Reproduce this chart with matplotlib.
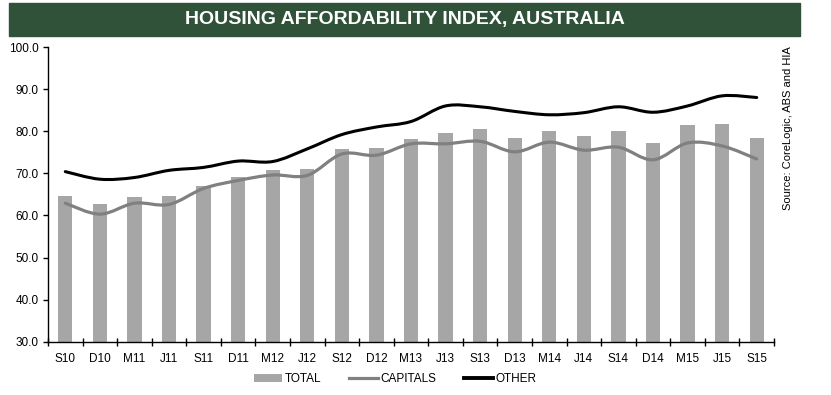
"""
Housing affordability index, Australia (S10 - S15).

Bars show the total index; the smoothed lines show capitals and other
areas, drawn as cubic Bezier paths through the quarterly points the way
a spreadsheet "smoothed line" does.
"""

import matplotlib

matplotlib.use("Agg")
import matplotlib.pyplot as plt
import numpy as np
from matplotlib.lines import Line2D
from matplotlib.patches import PathPatch, Patch, Rectangle
from matplotlib.path import Path

plt.rcParams["font.family"] = ["Liberation Sans", "DejaVu Sans"]

# ---------------------------------------------------------------------------
# Data
# ---------------------------------------------------------------------------
QUARTERS = [
    "S10", "D10", "M11", "J11", "S11", "D11", "M12", "J12", "S12", "D12",
    "M13", "J13", "S13", "D13", "M14", "J14", "S14", "D14", "M15", "J15", "S15",
]
TOTAL = [
    64.6, 62.7, 64.4, 64.6, 67.1, 69.1, 70.7, 71.0, 75.7, 76.0,
    78.2, 79.5, 80.6, 78.4, 80.0, 78.8, 80.0, 77.3, 81.5, 81.7, 78.4,
]
CAPITALS = [
    62.9, 60.3, 62.9, 62.6, 66.4, 68.3, 69.6, 69.5, 74.6, 74.3,
    77.0, 77.0, 77.6, 75.1, 77.4, 75.5, 76.2, 73.2, 77.2, 76.5, 73.4,
]
OTHER = [
    70.4, 68.6, 69.0, 70.7, 71.4, 72.9, 72.8, 75.8, 79.2, 81.0,
    82.3, 86.0, 85.8, 84.7, 83.9, 84.4, 85.8, 84.5, 86.0, 88.4, 88.0,
]

BAR_COLOR = "#a6a6a6"
CAP_COLOR = "#808080"
OTHER_COLOR = "#000000"
BANNER_COLOR = "#2f5239"


def smooth_path(xs, ys):
    """Catmull-Rom style cubic Bezier path through every point."""
    pts = np.column_stack([xs, ys]).astype(float)
    n = len(pts)
    verts = [pts[0]]
    codes = [Path.MOVETO]
    for i in range(n - 1):
        p0 = pts[max(i - 1, 0)]
        p1 = pts[i]
        p2 = pts[i + 1]
        p3 = pts[min(i + 2, n - 1)]
        verts += [p1 + (p2 - p0) / 6.0, p2 - (p3 - p1) / 6.0, p2]
        codes += [Path.CURVE4] * 3
    return Path(verts, codes)


fig = plt.figure(figsize=(8.31, 3.95), dpi=100)

# ---- Title banner ---------------------------------------------------------
fig.patches.append(Rectangle((9 / 831, 1 - 36 / 395), 791 / 831, 33 / 395,
                             transform=fig.transFigure, color=BANNER_COLOR,
                             zorder=0))
fig.text(405 / 831, 1 - 19.5 / 395, "HOUSING AFFORDABILITY INDEX, AUSTRALIA",
         ha="center", va="center", color="white", fontsize=14,
         fontweight="bold")

# ---- Chart ----------------------------------------------------------------
ax = fig.add_axes([48 / 831, 1 - 341.7 / 395, 726 / 831, 294.7 / 395])
x = np.arange(len(QUARTERS))

ax.bar(x, TOTAL, width=0.41, color=BAR_COLOR, zorder=2)
ax.add_patch(PathPatch(smooth_path(x, CAPITALS), fill=False,
                       edgecolor=CAP_COLOR, lw=2.3, zorder=3,
                       capstyle="round"))
ax.add_patch(PathPatch(smooth_path(x, OTHER), fill=False,
                       edgecolor=OTHER_COLOR, lw=2.2, zorder=4,
                       capstyle="round"))

ax.set_xlim(-0.5, len(QUARTERS) - 0.5)
ax.set_ylim(30, 100)
ax.set_yticks(np.arange(30, 101, 10))
ax.set_yticklabels([f"{v:.1f}" for v in range(30, 101, 10)])
ax.set_xticks(x)
ax.set_xticklabels(QUARTERS)
ax.set_xticks(np.arange(-0.5, len(QUARTERS)), minor=True)

ax.tick_params(axis="x", which="major", length=0, pad=8, labelsize=8.5)
ax.tick_params(axis="x", which="minor", direction="inout", length=6,
               width=1, color="black")
ax.tick_params(axis="y", direction="out", length=3.5, width=1, pad=3,
               labelsize=8.5)
for side in ("top", "right"):
    ax.spines[side].set_visible(False)
for side in ("left", "bottom"):
    ax.spines[side].set_linewidth(1)
    ax.spines[side].set_color("black")

handles = [
    Patch(facecolor=BAR_COLOR, edgecolor="none"),
    Line2D([], [], color=CAP_COLOR, lw=2.3),
    Line2D([], [], color=OTHER_COLOR, lw=2.8),
]
fig.legend(handles, ["TOTAL", "CAPITALS", "OTHER"], ncol=3,
           loc="center", bbox_to_anchor=(395 / 831, 1 - 379 / 395),
           frameon=False, fontsize=8.5, handlelength=2.4, handleheight=0.7,
           handletextpad=0.2, columnspacing=2.4)

fig.text(788 / 831, 1 - 128 / 395, "Source: CoreLogic, ABS and HIA",
         rotation=90, ha="center", va="center", fontsize=8)

fig.savefig("out.png", dpi=100)
plt.close(fig)
